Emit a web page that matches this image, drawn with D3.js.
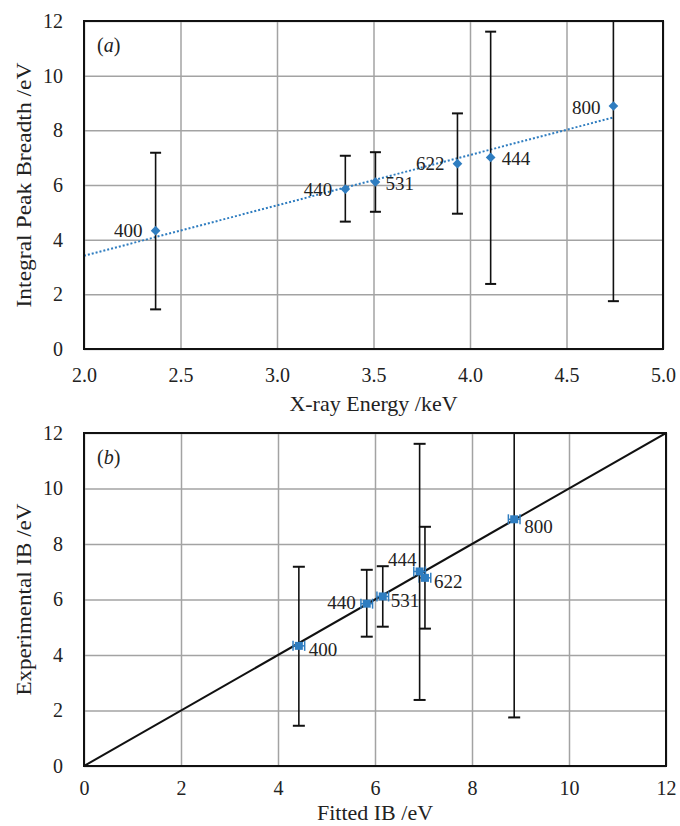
<!DOCTYPE html>
<html>
<head>
<meta charset="utf-8">
<script src="https://cdn.jsdelivr.net/npm/d3@7"></script>
<style>
  body { margin: 0; background: #fff; }
  text { font-family: "Liberation Serif", "Times New Roman", serif; fill: #222; }
</style>
</head>
<body>
<svg id="chart" width="680" height="826"></svg>
<script>
// reflections and their values
const reflections = ["400", "440", "531", "622", "444", "800"];
const energy = [2.371, 3.354, 3.51, 3.935, 4.107, 4.743];   // keV
const ib = [4.33, 5.85, 6.11, 6.78, 7.01, 8.89];             // eV
const errLow = [1.45, 4.66, 5.02, 4.95, 2.38, 1.75];
const errHigh = [7.18, 7.07, 7.2, 8.62, 11.61, 14.5];
const fitted = [4.43, 5.83, 6.16, 7.03, 6.92, 8.87];
const fitErr = 0.12;

// dotted linear trend (panel a) and y = x line (panel b)
const trendX = [2.0, 4.743];
const trendY = [3.41, 8.47];
const ideal = [0, 12];

const xTicksA = [2.0, 2.5, 3.0, 3.5, 4.0, 4.5, 5.0];
const yTicks = [0, 2, 4, 6, 8, 10, 12];
const xTicksB = [0, 2, 4, 6, 8, 10, 12];

const blue = "#2f7dc0";
const svg = d3.select("#chart");

// label offsets per panel: [dx, dy, anchor]
const labA = {
  "400": [-13, 0, "end"], "440": [-13, 0, "end"], "531": [10, 1, "start"],
  "622": [-13, 0, "end"], "444": [11, 1, "start"], "800": [-13, 1, "end"]
};
const labB = {
  "400": [10, 4, "start"], "440": [-11, -1, "end"], "531": [8, 4, "start"],
  "444": [-3, -12, "end"], "622": [9, 3, "start"], "800": [10, 7, "start"]
};

function panel(cfg) {
  const g = svg.append("g");
  const x = d3.scaleLinear().domain(cfg.xDomain).range([cfg.left, cfg.right]);
  const y = d3.scaleLinear().domain([0, 12]).range([cfg.bottom, cfg.top]);

  // grid
  g.append("g")
    .attr("transform", `translate(0,${cfg.bottom})`)
    .call(d3.axisBottom(x).tickValues(cfg.xTicks).tickSize(-(cfg.bottom - cfg.top)).tickFormat(""))
    .call(s => s.select(".domain").remove())
    .call(s => s.selectAll("line").attr("stroke", "#a3a3a3").attr("stroke-width", 1.5));
  g.append("g")
    .attr("transform", `translate(${cfg.left},0)`)
    .call(d3.axisLeft(y).tickValues(yTicks).tickSize(-(cfg.right - cfg.left)).tickFormat(""))
    .call(s => s.select(".domain").remove())
    .call(s => s.selectAll("line").attr("stroke", "#a3a3a3").attr("stroke-width", 1.5));

  // tick labels
  g.append("g")
    .attr("transform", `translate(0,${cfg.bottom})`)
    .call(d3.axisBottom(x).tickValues(cfg.xTicks).tickSize(0).tickPadding(cfg.xPad).tickFormat(cfg.fmt))
    .call(s => s.select(".domain").remove())
    .call(s => s.selectAll("text").attr("font-size", 20).attr("fill", "#222"));
  g.append("g")
    .attr("transform", `translate(${cfg.left},0)`)
    .call(d3.axisLeft(y).tickValues(yTicks).tickSize(0).tickPadding(21))
    .call(s => s.select(".domain").remove())
    .call(s => s.selectAll("text").attr("font-size", 20).attr("fill", "#222"));

  const clipId = "clip" + cfg.id;
  g.append("clipPath").attr("id", clipId)
    .append("rect")
    .attr("x", cfg.left).attr("y", cfg.top)
    .attr("width", cfg.right - cfg.left).attr("height", cfg.bottom - cfg.top);
  const plot = g.append("g").attr("clip-path", `url(#${clipId})`);

  // frame
  g.append("rect")
    .attr("x", cfg.left).attr("y", cfg.top)
    .attr("width", cfg.right - cfg.left).attr("height", cfg.bottom - cfg.top)
    .attr("fill", "none").attr("stroke", "#111").attr("stroke-width", 2);

  // axis titles
  g.append("text")
    .attr("x", (cfg.left + cfg.right) / 2).attr("y", cfg.xTitleY)
    .attr("text-anchor", "middle").attr("font-size", 22)
    .text(cfg.xTitle);
  g.append("text")
    .attr("transform", `translate(31,${(cfg.top + cfg.bottom) / 2}) rotate(-90)`)
    .attr("text-anchor", "middle").attr("font-size", 22)
    .attr("textLength", cfg.yTitleLen).attr("lengthAdjust", "spacingAndGlyphs")
    .text(cfg.yTitle);

  // panel tag
  const tag = g.append("text").attr("x", cfg.left + 13).attr("y", cfg.top + 31).attr("font-size", 20);
  tag.append("tspan").text("(");
  tag.append("tspan").attr("font-style", "italic").text(cfg.tag);
  tag.append("tspan").text(")");

  return { g, plot, x, y };
}

// ---- panel (a)
const A = panel({
  id: "a", left: 84, right: 663, top: 21, bottom: 349,
  xDomain: [2, 5], xTicks: xTicksA, fmt: d3.format(".1f"), xPad: 19,
  xTitle: "X-ray Energy /keV", yTitle: "Integral Peak Breadth /eV", yTitleLen: 245,
  xTitleY: 411, tag: "a"
});

A.plot.append("path")
  .datum(d3.zip(trendX, trendY))
  .attr("fill", "none").attr("stroke", blue).attr("stroke-width", 2)
  .attr("stroke-dasharray", "2,2")
  .attr("d", d3.line().x(d => A.x(d[0])).y(d => A.y(d[1])));

const capA = 5.5;
reflections.forEach((r, i) => {
  const cx = A.x(energy[i]);
  A.plot.append("line")
    .attr("x1", cx).attr("x2", cx).attr("y1", A.y(errLow[i])).attr("y2", A.y(errHigh[i]))
    .attr("stroke", "#111").attr("stroke-width", 1.6);
  [errLow[i], errHigh[i]].forEach(v => {
    A.plot.append("line")
      .attr("x1", cx - capA).attr("x2", cx + capA).attr("y1", A.y(v)).attr("y2", A.y(v))
      .attr("stroke", "#111").attr("stroke-width", 2);
  });
});

A.plot.selectAll("path.pt").data(reflections).join("path")
  .attr("class", "pt")
  .attr("d", d3.symbol(d3.symbolDiamond2, 60))
  .attr("transform", (d, i) => `translate(${A.x(energy[i])},${A.y(ib[i])})`)
  .attr("fill", blue);

A.g.selectAll("text.lab").data(reflections).join("text")
  .attr("class", "lab")
  .attr("x", (d, i) => A.x(energy[i]) + labA[d][0])
  .attr("y", (d, i) => A.y(ib[i]) + labA[d][1])
  .attr("dy", "0.35em")
  .attr("text-anchor", d => labA[d][2])
  .attr("font-size", 19)
  .text(d => d);

// ---- panel (b)
const B = panel({
  id: "b", left: 84, right: 666, top: 433, bottom: 766,
  xDomain: [0, 12], xTicks: xTicksB, fmt: d3.format("d"), xPad: 15,
  xTitle: "Fitted IB /eV", yTitle: "Experimental IB /eV", yTitleLen: 192,
  xTitleY: 820, tag: "b"
});

B.plot.append("path")
  .datum(d3.zip(ideal, ideal))
  .attr("fill", "none").attr("stroke", "#111").attr("stroke-width", 2)
  .attr("d", d3.line().x(d => B.x(d[0])).y(d => B.y(d[1])));

const capB = 6;
reflections.forEach((r, i) => {
  const cx = B.x(fitted[i]);
  B.plot.append("line")
    .attr("x1", cx).attr("x2", cx).attr("y1", B.y(errLow[i])).attr("y2", B.y(errHigh[i]))
    .attr("stroke", "#111").attr("stroke-width", 1.6);
  [errLow[i], errHigh[i]].forEach(v => {
    B.plot.append("line")
      .attr("x1", cx - capB).attr("x2", cx + capB).attr("y1", B.y(v)).attr("y2", B.y(v))
      .attr("stroke", "#111").attr("stroke-width", 2);
  });
  // small horizontal error bars on the fitted value
  const cy = B.y(ib[i]);
  const x0 = B.x(fitted[i] - fitErr), x1 = B.x(fitted[i] + fitErr);
  B.plot.append("line").attr("x1", x0).attr("x2", x1).attr("y1", cy).attr("y2", cy)
    .attr("stroke", blue).attr("stroke-width", 1.5);
  [x0, x1].forEach(xx => {
    B.plot.append("line").attr("x1", xx).attr("x2", xx).attr("y1", cy - 5).attr("y2", cy + 5)
      .attr("stroke", blue).attr("stroke-width", 1.5);
  });
});

B.plot.selectAll("rect.pt").data(reflections).join("rect")
  .attr("class", "pt")
  .attr("x", (d, i) => B.x(fitted[i]) - 4)
  .attr("y", (d, i) => B.y(ib[i]) - 4)
  .attr("width", 8).attr("height", 8)
  .attr("fill", blue);

B.g.selectAll("text.lab").data(reflections).join("text")
  .attr("class", "lab")
  .attr("x", (d, i) => B.x(fitted[i]) + labB[d][0])
  .attr("y", (d, i) => B.y(ib[i]) + labB[d][1])
  .attr("dy", "0.35em")
  .attr("text-anchor", d => labB[d][2])
  .attr("font-size", 19)
  .text(d => d);
</script>
</body>
</html>
